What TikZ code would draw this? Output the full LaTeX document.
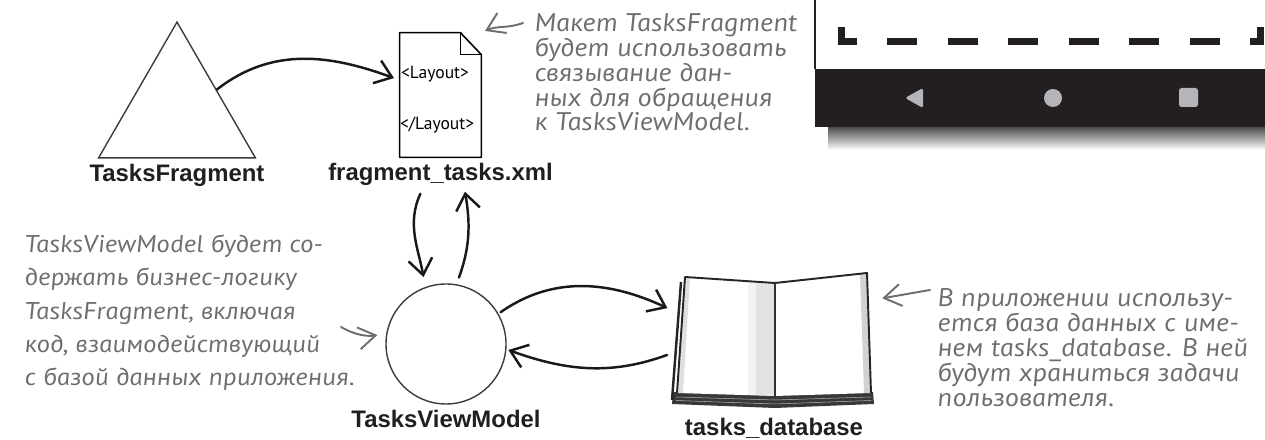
\documentclass[tikz,border=0pt]{standalone}
\usepackage{fontspec}
\setmainfont{Liberation Sans}
\newfontfamily\handfont{PT Sans}[ItalicFeatures={FakeStretch=1.12,FakeSlant=-0.14}]
\usetikzlibrary{positioning,calc,shapes.geometric,arrows.meta}
\definecolor{inkgray}{HTML}{6E6E6E}
\definecolor{shapeline}{HTML}{3C3C3C}
\definecolor{navgray}{HTML}{B4B4BA}
\definecolor{barblack}{HTML}{231F20}

\begin{document}
\begin{tikzpicture}[
        x=0.2mm, y=0.2mm,
        node distance=1pt,
        caption/.style={font=\fontsize{13.6}{15}\selectfont\bfseries, text=black!88, inner sep=2pt},
        note/.style={font=\handfont\itshape\fontsize{14.5}{#1}\selectfont, text=inkgray, align=left, inner sep=0pt, anchor=north west},
        note/.default=14.2,
        tag/.style={font=\handfont\fontsize{10}{12}\selectfont, inner sep=0pt, anchor=west},
        outline/.style={draw=shapeline, line width=0.8pt},
        link/.style={-{Straight Barb[length=3.2mm,width=4.8mm]}, line width=1.4pt, black!90, line cap=round},
        pointer/.style={-{Straight Barb[length=3.4mm,width=4.4mm]}, line width=1.1pt, inkgray, line cap=round},
    ]
    \useasboundingbox (0,0) rectangle (1265,440);

    % телефон
    \shade[top color=black!70, bottom color=white] (828,290) rectangle (1270,313);
    \fill[barblack] (815,313) rectangle (1270,371);
    \draw[barblack, line width=1.2pt] (815,371) -- (815,445);
    \draw[barblack, line width=1.4mm, line join=miter] (841,413) -- (841,398.5) -- (857,398.5);
    \foreach \i in {0,...,5}
        \fill[barblack] (887+60.6*\i,395) rectangle +(30,7);
    \draw[barblack, line width=1.4mm, line join=miter] (1250,398.5) -- (1260,398.5) -- (1260,413);
    \fill[navgray, rounded corners=1pt] (905,342) -- (923,352) -- (923,332) -- cycle;
    \fill[navgray] (1053,342) circle (9);
    \fill[navgray, rounded corners=1.5pt] (1179,333) rectangle (1198,352);

    % фрагмент
    \node[regular polygon, regular polygon sides=3, minimum size=36.2mm, inner sep=0pt, outline] (frag) at (177,327.4) {};
    \node[caption, below=1pt of frag.south] (fraglbl) {TasksFragment};

    % макет
    \node[minimum width=16.2mm, minimum height=24.8mm, inner sep=0pt] (xml) at (440.5,345) {};
    \draw[line width=0.9pt, line join=round] (xml.north west) -- ($(xml.north east)+(-21,0)$) -- ($(xml.north east)+(0,-22)$) -- (xml.south east) -- (xml.south west) -- cycle;
    \draw[line width=0.9pt] ($(xml.north east)+(-21,0)$) |- ($(xml.north east)+(0,-22)$);
    \node[tag] (open) at ($(xml.north west)+(1,-42)$) {<Layout>};
    \node[tag] (close) at ($(xml.north west)+(0,-92)$) {</Layout>};
    \node[caption, below=1pt of xml.south] (xmllbl) {fragment\_tasks.xml};

    % модель
    \node[circle, minimum size=24mm, inner sep=0pt, outline] (vm) at (446,96) {};
    \node[caption, below=1pt of vm.south] (vmlbl) {TasksViewModel};

    % база данных
    \node[minimum width=39.6mm, minimum height=26.8mm, inner sep=0pt] (db) at (774,100) {};
    \begin{scope}[shift={(db.center)}]
        \fill[black!78] (-101,-52) -- (1,-55) -- (99,-52) -- (100,-64) -- (1,-68) -- (-102,-64) -- cycle;
        \draw[gray!60, line width=0.3pt] (-98,-57) -- (1,-60) -- (97,-57) (-98,-60.5) -- (1,-64) -- (97,-60.5);
        \fill[white] (-89,63) -- (1,57) -- (93,67) -- (97,-53) -- (1,-56) -- (-97,-53) -- cycle;
        \fill[gray!10] (-26,59) -- (-18,58) -- (-18,-55) -- (-26,-55) -- cycle;
        \fill[gray!22] (-18,58) -- (1,57) -- (1,-56) -- (-18,-55) -- cycle;
        \fill[gray!35] (86,66) -- (93,67) -- (97,-53) -- (90,-53) -- cycle;
        \fill[gray!25] (-97,-53) -- (-89,63) -- (-84,63) -- (-91,-53) -- cycle;
        \draw[black!85, line width=1.1pt, line join=round] (-97,-53) -- (-89,63) -- (1,57) -- (93,67) -- (97,-53);
        \draw[black!80, line width=0.8pt] (1,57) -- (1,-58);
        \draw[black!85, line width=1.4pt] (-93,58) -- (-102,-60);
    \end{scope}
    \node[caption, below=4pt of db.south] (dblbl) {tasks\_database};

    % пояснения
    \node[note] (tfnote) at (535,427) {Макет TasksFragment\\будет использовать\\связывание дан-\\ных для обращения\\к TasksViewModel.};
    \node[note=18.8, font=\handfont\itshape\fontsize{13.8}{18.8}\selectfont] (vmnote) at (25,205) {TasksViewModel будет со-\\держать бизнес-логику\\TasksFragment, включая\\код, взаимодействующий\\с базой данных приложения.};
    \node[note] (dbnote) at (938,152) {В приложении использу-\\ется база данных с име-\\нем tasks\_database. В ней\\будут храниться задачи\\пользователя.};

    % связи
    \draw[link, shorten >=1.2mm] (frag.30) to[out=38, in=160] (xml.160);
    \draw[link, shorten <=1mm, shorten >=2mm] ([xshift=-3.6mm]xmllbl.south) to[out=245, in=100] (vm.110);
    \draw[link, shorten <=1.4mm, shorten >=0.5mm] (vm.80) to[out=70, in=280] ([xshift=4.8mm]xmllbl.south);
    \draw[link, shorten <=0.5mm, shorten >=1.6mm] (vm.30) to[out=35, in=155] (db.164);
    \draw[link, shorten <=1.6mm, shorten >=0.4mm] (db.187) to[out=200, in=-20] (vm.-5);

    % стрелки пояснений
    \coordinate (tftail) at ($(tfnote.north west)+(-12,-10)$);
    \coordinate (vmtail) at ($(vmnote.north west)+(316,-92)$);
    \coordinate (dbtail) at ($(dbnote.north west)+(-8,-2)$);
    \draw[pointer, shorten >=0.8mm] (tftail) to[out=200, in=25] (xml.north east);
    \draw[pointer, shorten >=1.8mm] (vmtail) to[out=-30, in=190] (vm.170);
    \draw[pointer, shorten >=1.8mm] (dbtail) -- (db.22);

\end{tikzpicture}
\end{document}
